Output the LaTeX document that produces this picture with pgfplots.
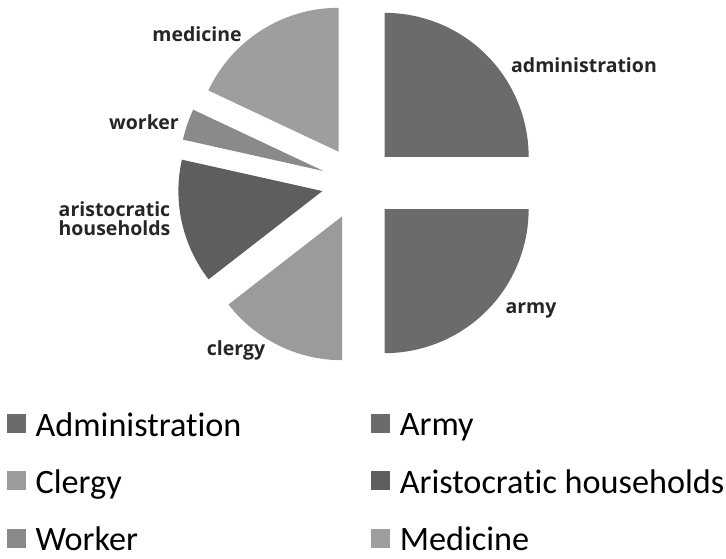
\documentclass[border=0pt]{standalone}
\usepackage{pgfplots}
\usepackage{pgfplotstable}
\pgfplotsset{compat=1.18}
\usepackage{fontspec}
\setmainfont{Carlito}[Ligatures=NoCommon]
\newfontfamily\labfont{Open Sans}
\definecolor{c0}{RGB}{107,107,107}
\definecolor{c1}{RGB}{107,107,107}
\definecolor{c2}{RGB}{155,155,155}
\definecolor{c3}{RGB}{94,94,94}
\definecolor{c4}{RGB}{138,138,138}
\definecolor{c5}{RGB}{158,158,158}
\pgfplotstableread{
name value
Administration 25
Army 25
Clergy 14.5
Aristocratic 14
Worker 3.5
Medicine 18
}\piedata
\newcommand\cx{358.5}
\newcommand\cy{375}
\newcommand\R{144}
\newcommand\E{37}
\xdef\cum{90}%
\foreach \i in {0,...,5}{%
  \pgfplotstablegetelem{\i}{value}\of\piedata
  \pgfmathsetmacro\s{\cum}%
  \pgfmathsetmacro\e{\cum-3.6*\pgfplotsretval}%
  \pgfmathsetmacro\m{(\s+\e)/2}%
  \pgfmathsetmacro\ox{\cx+\E*cos(\m)}%
  \pgfmathsetmacro\oy{\cy+\E*sin(\m)}%
  \expandafter\xdef\csname sS\i\endcsname{\s}%
  \expandafter\xdef\csname sE\i\endcsname{\e}%
  \expandafter\xdef\csname oX\i\endcsname{\ox}%
  \expandafter\xdef\csname oY\i\endcsname{\oy}%
  \xdef\cum{\e}%
}%
\newcommand\drawslice[1]{%
  \edef\tmp{\noexpand\fill[c#1] (axis cs:\csname oX#1\endcsname,\csname oY#1\endcsname) -- ++(\csname sS#1\endcsname:\R pt) arc[start angle=\csname sS#1\endcsname,end angle=\csname sE#1\endcsname,radius=\R pt] -- cycle;}\tmp}
\begin{document}
\begin{tikzpicture}
\begin{axis}[
  x=1pt, y=1pt, xmin=0, xmax=726, ymin=0, ymax=558,
  hide axis, clip=false,
  legend columns=2,
  legend cell align=left,
  legend image code/.code={\fill[#1] (0pt,-7pt) rectangle (18pt,11pt);},
  legend style={draw=none, fill=none, at={(axis cs:7,147.5)}, anchor=north west,
    font=\fontsize{34.2}{38}\selectfont, inner sep=0pt,
    row sep=28pt,
    /tikz/every even column/.append style={column sep=128pt},
    /tikz/every odd column/.append style={column sep=8pt}},
]
\pgfplotsinvokeforeach{0,...,5}{\drawslice{#1}}
\addlegendimage{c0}\addlegendentry{Administration}
\addlegendimage{c1}\addlegendentry{Army}
\addlegendimage{c2}\addlegendentry{Clergy}
\addlegendimage{c3}\addlegendentry{Aristocratic households}
\addlegendimage{c4}\addlegendentry{Worker}
\addlegendimage{c5}\addlegendentry{Medicine}
\begin{scope}[every node/.style={font=\labfont\bfseries\fontsize{19.5}{22}\selectfont, text=black!85}]
\node at (axis cs:584,493) {administration};
\node at (axis cs:531,248) {army};
\node at (axis cs:236,208) {clergy};
\node[align=center] at (axis cs:114.5,339) {aristocratic\\[-3pt]households};
\node at (axis cs:144,436) {worker};
\node at (axis cs:197,524) {medicine};
\end{scope}
\end{axis}
\pgfresetboundingbox
\path (current axis.south west) rectangle (current axis.north east);
\end{tikzpicture}
\end{document}
